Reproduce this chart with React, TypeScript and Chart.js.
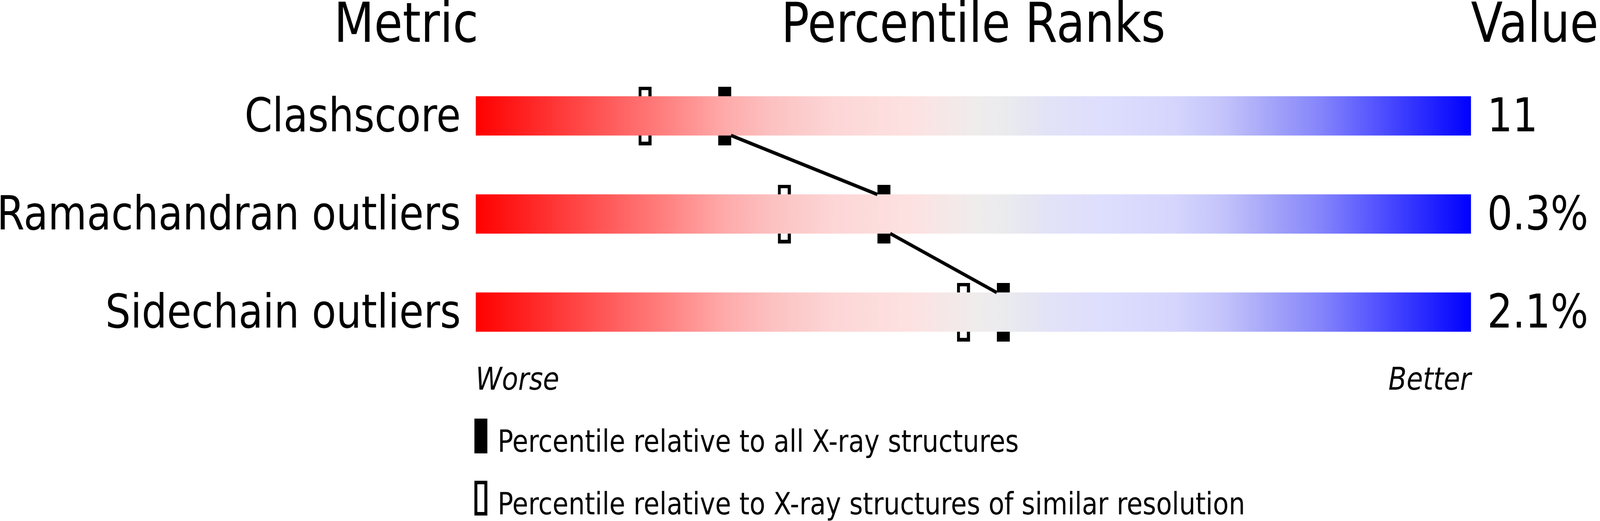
import { useEffect, useRef } from 'react';
import { Chart, registerables } from 'chart.js';

Chart.register(...registerables);

const metrics = ['Clashscore', 'Ramachandran outliers', 'Sidechain outliers'];
const metricValues = ['11', '0.3%', '2.1%'];
const percentileAll = [25, 41, 53];
const percentileSimilar = [17, 31, 49];
const rankRange = [0, 100];
const headers = ['Metric', 'Percentile Ranks', 'Value'];
const scaleEnds = ['Worse', 'Better'];
const legendLabels = [
  'Percentile relative to all X-ray structures',
  'Percentile relative to X-ray structures of similar resolution'
];

const W = 4823;
const H = 1333;
const FONT = '"DejaVu Sans", sans-serif';
const BAR_H = 100;
const MARK_W = 39;
const MARK_H = 150;

// red -> pale -> blue
const gradientStops: [number, string][] = [
  [0, '#ff0000'],
  [0.1, '#ff4444'],
  [0.19, '#ff8080'],
  [0.25, '#ffaaaa'],
  [0.3, '#fcc2c2'],
  [0.36, '#fdd6d6'],
  [0.44, '#fde2e2'],
  [0.5, '#f0ecec'],
  [0.53, '#ebebee'],
  [0.58, '#e2e2f8'],
  [0.63, '#dedefe'],
  [0.7, '#d6d6fd'],
  [0.75, '#c4c4fb'],
  [0.8, '#a4a4f9'],
  [0.85, '#8484fc'],
  [0.9, '#5858ff'],
  [0.95, '#2c2cff'],
  [1, '#0000ff']
];

function makeMarker(hollow: boolean) {
  const c = document.createElement('canvas');
  c.width = MARK_W;
  c.height = MARK_H;
  const g = c.getContext('2d')!;
  g.fillStyle = '#000';
  g.fillRect(0, 0, MARK_W, MARK_H);
  if (hollow) {
    g.fillStyle = '#fff';
    g.fillRect(9, 9, MARK_W - 18, MARK_H - 18);
  }
  return c;
}

const decorPlugin = {
  id: 'decor',
  afterDatasetsDraw(chart: any) {
    const { ctx, chartArea, scales } = chart;
    const x = scales.x;
    const y = scales.y;
    ctx.save();
    ctx.fillStyle = '#000';
    ctx.strokeStyle = '#000';

    // connector between the "all structures" markers
    ctx.lineWidth = 9;
    ctx.beginPath();
    for (let i = 0; i < percentileAll.length - 1; i++) {
      ctx.moveTo(x.getPixelForValue(percentileAll[i]) + MARK_W / 2, y.getPixelForValue(i) + BAR_H / 2);
      ctx.lineTo(x.getPixelForValue(percentileAll[i + 1]) - MARK_W / 2, y.getPixelForValue(i + 1) - BAR_H / 2);
    }
    ctx.stroke();

    // column headers
    ctx.font = `140px ${FONT}`;
    ctx.textBaseline = 'alphabetic';
    ctx.textAlign = 'right';
    ctx.fillText(headers[0], chartArea.left + 8, 107);
    ctx.textAlign = 'center';
    ctx.fillText(headers[1], (chartArea.left + chartArea.right) / 2, 107);
    ctx.textAlign = 'left';
    ctx.fillText(headers[2], chartArea.right, 107);

    // worse / better
    ctx.font = `italic 80px ${FONT}`;
    ctx.textAlign = 'left';
    ctx.fillText(scaleEnds[0], x.getPixelForValue(rankRange[0]), 997);
    ctx.textAlign = 'right';
    ctx.fillText(scaleEnds[1], x.getPixelForValue(rankRange[1]), 997);

    // legend
    const lx = chartArea.left - 4;
    ctx.fillRect(lx, 1071, MARK_W, 89);
    ctx.lineWidth = 9;
    ctx.strokeRect(lx + 4.5, 1230 + 4.5, MARK_W - 9, 89 - 9);
    ctx.font = `78px ${FONT}`;
    ctx.textAlign = 'left';
    ctx.fillText(legendLabels[0], lx + 70, 1156);
    ctx.fillText(legendLabels[1], lx + 70, 1316);
    ctx.restore();
  }
};

export default function App() {
  const canvasRef = useRef<HTMLCanvasElement>(null);
  const chartRef = useRef<Chart | null>(null);

  useEffect(() => {
    document.body.style.margin = '0';
    document.body.style.overflow = 'hidden';
    if (!canvasRef.current) return;
    const ctx = canvasRef.current.getContext('2d');
    if (!ctx) return;
    if (chartRef.current) chartRef.current.destroy();

    chartRef.current = new Chart(ctx, {
      type: 'bar',
      data: {
        labels: metrics,
        datasets: [
          {
            type: 'bar',
            label: 'range',
            data: metrics.map(() => rankRange[1]),
            barThickness: BAR_H,
            borderWidth: 0,
            backgroundColor: (c: any) => {
              const chart = c.chart;
              if (!chart.chartArea) return '#ff0000';
              const xs = chart.scales.x;
              const g = chart.ctx.createLinearGradient(
                xs.getPixelForValue(rankRange[0]), 0,
                xs.getPixelForValue(rankRange[1]), 0
              );
              gradientStops.forEach(([o, col]) => g.addColorStop(o, col));
              return g;
            }
          },
          {
            type: 'scatter',
            label: legendLabels[1],
            data: metrics.map((m, i) => ({ x: percentileSimilar[i], y: m })),
            pointStyle: makeMarker(true),
            pointRadius: 10
          },
          {
            type: 'scatter',
            label: legendLabels[0],
            data: metrics.map((m, i) => ({ x: percentileAll[i], y: m })),
            pointStyle: makeMarker(false),
            pointRadius: 10
          }
        ] as any
      },
      options: {
        indexAxis: 'y',
        responsive: false,
        animation: false,
        devicePixelRatio: 1,
        layout: { padding: { top: 171, bottom: 409, left: 0, right: 0 } },
        scales: {
          x: {
            type: 'linear',
            min: rankRange[0],
            max: rankRange[1],
            display: false
          },
          y: {
            type: 'category',
            position: 'left',
            offset: true,
            grid: { display: false, drawTicks: false },
            border: { display: false },
            ticks: {
              color: '#000',
              padding: 45,
              labelOffset: 8,
              crossAlign: 'near',
              font: { family: FONT, size: 120 }
            },
            afterFit: (s: any) => {
              s.width = 1434;
            }
          },
          y2: {
            type: 'category',
            position: 'right',
            labels: metricValues,
            offset: true,
            grid: { display: false, drawTicks: false },
            border: { display: false },
            ticks: {
              color: '#000',
              padding: 49,
              labelOffset: 8,
              crossAlign: 'near',
              font: { family: FONT, size: 120 }
            },
            afterFit: (s: any) => {
              s.width = 389;
            }
          }
        } as any,
        plugins: {
          legend: { display: false },
          tooltip: { enabled: false }
        }
      },
      plugins: [decorPlugin]
    });

    return () => {
      if (chartRef.current) {
        chartRef.current.destroy();
        chartRef.current = null;
      }
    };
  }, []);

  // the bitmap is drawn at the reference size and fitted to the window
  return (
    <div style={{ width: '100vw', height: '100vh', background: '#fff', overflow: 'hidden' }}>
      <canvas
        ref={canvasRef}
        width={W}
        height={H}
        style={{ width: '100vw', height: '100vh', display: 'block' }}
      />
    </div>
  );
}
